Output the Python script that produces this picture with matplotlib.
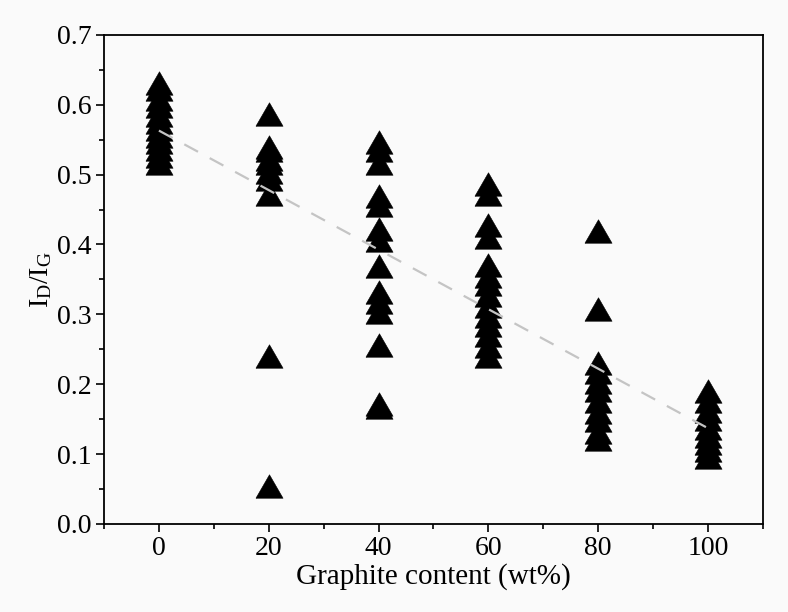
# Import libraries
import matplotlib
matplotlib.use("Agg")
import matplotlib.pyplot as plt
from matplotlib.ticker import MultipleLocator
import numpy as np

plt.rcParams['font.family'] = ['Liberation Serif', 'DejaVu Serif']
plt.rcParams['mathtext.fontset'] = 'custom'
plt.rcParams['mathtext.rm'] = 'Liberation Serif'
plt.rcParams['mathtext.it'] = 'Liberation Serif:italic'

####################
#       Data       #
####################

content = [0, 20, 40, 60, 80, 100]

ratio_0 = [0.631, 0.622, 0.608, 0.598, 0.586, 0.576, 0.565, 0.555,
           0.546, 0.536, 0.526, 0.516]
ratio_20 = [0.587, 0.540, 0.535, 0.523, 0.517, 0.503, 0.493, 0.472,
            0.240, 0.054]
ratio_40 = [0.547, 0.535, 0.517, 0.470, 0.456, 0.422, 0.406, 0.369,
            0.332, 0.318, 0.303, 0.256, 0.172, 0.168]
ratio_60 = [0.487, 0.472, 0.428, 0.411, 0.370, 0.355, 0.344, 0.327,
            0.312, 0.298, 0.284, 0.270, 0.255, 0.241]
ratio_80 = [0.419, 0.308, 0.231, 0.218, 0.203, 0.191, 0.176, 0.160,
            0.148, 0.131, 0.122]
ratio_100 = [0.190, 0.176, 0.162, 0.150, 0.137, 0.126, 0.116, 0.106,
             0.096]

ratios = [ratio_0, ratio_20, ratio_40, ratio_60, ratio_80, ratio_100]

# linear trend (dashed grey), drawn over the markers
fit_x = [0, 100]
fit_y = [0.563, 0.137]

####################

fig = plt.figure(figsize=(7.88, 6.12), dpi=100, facecolor='#fafafa')
ax = fig.add_axes([0.132, 0.144, 0.836, 0.799])
ax.set_facecolor('#fafafa')

# equilateral triangle marker
tri = [(-1, -0.866), (1, -0.866), (0, 0.866), (-1, -0.866)]

for c, vals in zip(content, ratios):
    ax.plot([c] * len(vals), vals, linestyle='none', marker=tri,
            markersize=19.5, markerfacecolor='k', markeredgecolor='k',
            markeredgewidth=0.4, zorder=2)

ax.plot(fit_x, fit_y, color='#c4c4c4', lw=1.6, dashes=(7, 6), zorder=3)

ax.set_xlim(-10, 110)
ax.set_ylim(0, 0.7)
ax.xaxis.set_major_locator(MultipleLocator(20))
ax.xaxis.set_minor_locator(MultipleLocator(10))
ax.yaxis.set_major_locator(MultipleLocator(0.1))
ax.yaxis.set_minor_locator(MultipleLocator(0.05))
ax.yaxis.set_major_formatter(matplotlib.ticker.FormatStrFormatter('%.1f'))

for s in ax.spines.values():
    s.set_linewidth(1.3)

ax.tick_params(which='both', direction='out', top=False, right=False,
               width=1.2, labelsize=20)
ax.tick_params(which='major', length=6)
ax.tick_params(which='minor', length=3.5)
ax.tick_params(axis='x', pad=3)
ax.tick_params(axis='y', pad=3)

ax.set_xlabel('Graphite content (wt%)', fontsize=21, labelpad=1)
ax.set_ylabel(r'$\mathregular{I_D/I_G}$', fontsize=20, labelpad=2)

plt.savefig('out.png', dpi=100, facecolor=fig.get_facecolor())
plt.close()
